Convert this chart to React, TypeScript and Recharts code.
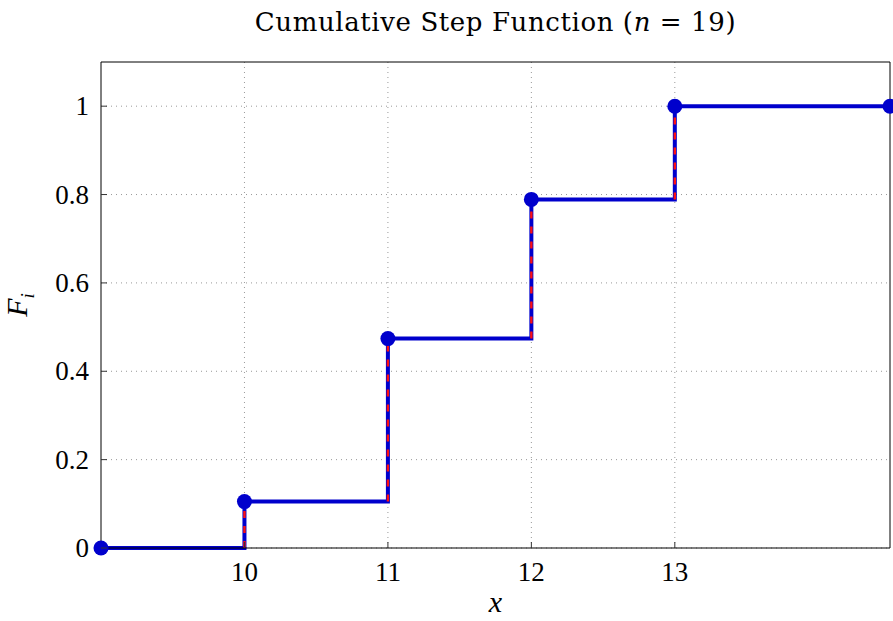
import { LineChart, Line, XAxis, YAxis, CartesianGrid } from 'recharts'

// empirical CDF, n = 19
const X_POINTS = [9, 10, 11, 12, 13, 14.5]
const F_VALUES = [0, 0.105, 0.474, 0.789, 1, 1]
const X_TICKS = [10, 11, 12, 13]
const Y_TICKS = [0, 0.2, 0.4, 0.6, 0.8, 1]
const TITLE_TEXT = 'Cumulative Step Function ('
const N_COUNT = 19

const BLUE = '#0000cc'
const RED = '#ff1010'
const FONT = '"Liberation Serif", "DejaVu Serif", serif'
const TITLE_FONT = '"DejaVu Serif", serif'
const W = 893
const H = 621
// axes are 1px thick, so plot rect = margin + 1
const MARGIN = { top: 61, right: 2, bottom: 72, left: 100 }
const TICK_LEN = 6

const stepData = X_POINTS.map((x, i) => ({ x, y: F_VALUES[i] }))

// one little segment per jump, drawn red dashed over the blue riser
const jumps = X_POINTS.slice(1)
  .map((x, i) => ({ x, from: F_VALUES[i], to: F_VALUES[i + 1] }))
  .filter(j => j.to !== j.from)
  .map(j => [{ x: j.x, y: j.from }, { x: j.x, y: j.to }])

const fmt = (v: number) => String(v)

const BottomTick = ({ x, y, payload }: any) => (
  <g>
    <line x1={x} y1={y} x2={x} y2={y - TICK_LEN} stroke="#333" strokeWidth={1} />
    <text x={x} y={y + 33} textAnchor="middle" fontFamily={FONT} fontSize={27} fill="#000">
      {fmt(payload.value)}
    </text>
  </g>
)

const TopTick = ({ x, y }: any) => (
  <line x1={x} y1={y} x2={x} y2={y + TICK_LEN} stroke="#333" strokeWidth={1} />
)

const LeftTick = ({ x, y, payload }: any) => (
  <g>
    <line x1={x} y1={y} x2={x + TICK_LEN} y2={y} stroke="#333" strokeWidth={1} />
    <text x={x - 12} y={y + 9} textAnchor="end" fontFamily={FONT} fontSize={27} fill="#000">
      {fmt(payload.value)}
    </text>
  </g>
)

const RightTick = ({ x, y }: any) => (
  <line x1={x} y1={y} x2={x - TICK_LEN} y2={y} stroke="#333" strokeWidth={1} />
)

export default function App() {
  const plotCx = (MARGIN.left + 1) + (W - MARGIN.left - MARGIN.right - 2) / 2
  const plotCy = (MARGIN.top + 1) + (H - MARGIN.top - MARGIN.bottom - 2) / 2
  return (
    <div style={{ position: 'relative', width: W, height: H, background: '#fff' }}>
      <style>{'body{margin:0}'}</style>
      <LineChart width={W} height={H} margin={MARGIN}>
        <CartesianGrid
          xAxisId="b"
          yAxisId="l"
          stroke="#999"
          strokeDasharray="1 4"
          horizontalValues={Y_TICKS}
          verticalValues={X_TICKS}
        />
        <XAxis
          xAxisId="b"
          dataKey="x"
          type="number"
          domain={[9, 14.5]}
          ticks={X_TICKS}
          interval={0}
          height={1}
          tickSize={0}
          tickMargin={0}
          tickLine={false}
          axisLine={{ stroke: '#000' }}
          tick={<BottomTick />}
        />
        <XAxis
          xAxisId="t"
          orientation="top"
          dataKey="x"
          type="number"
          domain={[9, 14.5]}
          ticks={X_TICKS}
          interval={0}
          height={1}
          tickSize={0}
          tickMargin={0}
          tickLine={false}
          axisLine={{ stroke: '#000' }}
          tick={<TopTick />}
        />
        <YAxis
          yAxisId="l"
          type="number"
          domain={[0, 1.1]}
          ticks={Y_TICKS}
          interval={0}
          width={1}
          tickSize={0}
          tickMargin={0}
          tickLine={false}
          axisLine={{ stroke: '#000' }}
          tick={<LeftTick />}
        />
        <YAxis
          yAxisId="r"
          orientation="right"
          type="number"
          domain={[0, 1.1]}
          ticks={Y_TICKS}
          interval={0}
          width={1}
          tickSize={0}
          tickMargin={0}
          tickLine={false}
          axisLine={{ stroke: '#000' }}
          tick={<RightTick />}
        />
        <Line
          xAxisId="b"
          yAxisId="l"
          data={stepData}
          dataKey="y"
          type="stepAfter"
          stroke={BLUE}
          strokeWidth={4}
          dot={false}
          isAnimationActive={false}
        />
        {jumps.map((seg, i) => (
          <Line
            key={i}
            xAxisId="b"
            yAxisId="l"
            data={seg}
            dataKey="y"
            type="linear"
            stroke={RED}
            strokeWidth={2.4}
            strokeDasharray="7 8"
            dot={false}
            isAnimationActive={false}
          />
        ))}
        <Line
          xAxisId="b"
          yAxisId="l"
          data={stepData}
          dataKey="y"
          stroke="none"
          strokeWidth={0}
          dot={{ r: 7.5, fill: BLUE, stroke: 'none' }}
          isAnimationActive={false}
        />
      </LineChart>
      <div
        style={{
          position: 'absolute', left: 0, width: plotCx * 2, top: 6, textAlign: 'center',
          fontFamily: TITLE_FONT, fontSize: 26, letterSpacing: 0.6, lineHeight: '32px',
          color: '#000', whiteSpace: 'nowrap',
        }}
      >
        {TITLE_TEXT}<i>n</i>&nbsp;=&nbsp;{N_COUNT})
      </div>
      <div
        style={{
          position: 'absolute', left: plotCx - 20, width: 40, top: 586, textAlign: 'center',
          fontFamily: FONT, fontSize: 30, fontStyle: 'italic', lineHeight: '32px', color: '#000',
        }}
      >
        x
      </div>
      <div
        style={{
          position: 'absolute', left: 22, top: plotCy, transform: 'translate(-50%, -50%) rotate(-90deg)',
          fontFamily: FONT, fontSize: 30, fontStyle: 'italic', lineHeight: '32px', color: '#000',
          whiteSpace: 'nowrap',
        }}
      >
        F<sub style={{ fontSize: 19 }}>i</sub>
      </div>
    </div>
  )
}
